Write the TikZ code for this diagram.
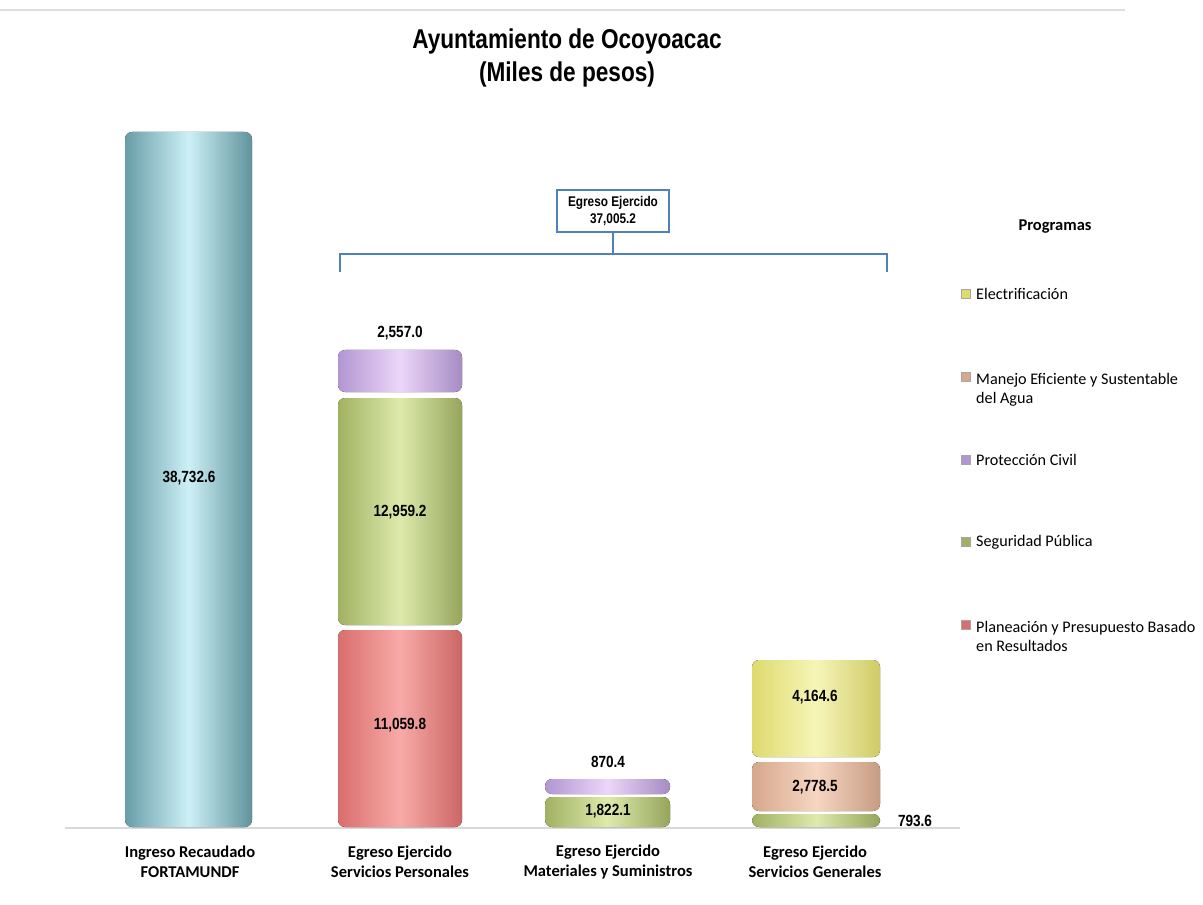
\documentclass[tikz,border=0pt]{standalone}
\usepackage{fontspec}
\setmainfont{Carlito}
\newfontfamily\arialfont[FakeStretch=0.83]{Liberation Sans}
\newfontfamily\valfont[FakeStretch=0.84]{Liberation Sans}
\usetikzlibrary{positioning}
\definecolor{CyanDark}{RGB}{104,158,168}
\definecolor{CyanLight}{RGB}{205,240,246}
\definecolor{LilaDark}{RGB}{178,150,210}
\definecolor{LilaLight}{RGB}{236,214,248}
\definecolor{GreenDark}{RGB}{160,178,98}
\definecolor{GreenLight}{RGB}{222,234,172}
\definecolor{RedDark}{RGB}{218,110,108}
\definecolor{RedLight}{RGB}{248,170,168}
\definecolor{YellowDark}{RGB}{222,218,110}
\definecolor{YellowLight}{RGB}{246,245,184}
\definecolor{PeachDark}{RGB}{214,168,140}
\definecolor{PeachLight}{RGB}{246,214,194}
\definecolor{BoxClr}{RGB}{79,129,189}

\tikzset{
  seg/.style 2 args={rounded corners=4pt,left color=#1,right color=#1!93!black,middle color=#2},
  val/.style={font=\valfont\bfseries\fontsize{9.2}{11}\selectfont},
  cat/.style={font=\bfseries\fontsize{9.4}{11.5}\selectfont,align=center},
  legtxt/.style={font=\fontsize{9.2}{11}\selectfont,align=left,anchor=west},
  legmark/.style={draw=gray!70,line width=0.3pt,minimum size=5pt,inner sep=0pt}
}

\begin{document}
\begin{tikzpicture}[x=0.02cm,y=-0.02cm]
\useasboundingbox (0,0) rectangle (1203,905);

% guide lines
\draw[gray!25,line width=1pt] (0,10) -- (1125,10);
\draw[gray!30,line width=1pt] (65,828) -- (960,828);

% title
\node[font=\arialfont\bfseries\fontsize{15.5}{18.5}\selectfont,align=center] (title) at (567,58)
  {Ayuntamiento de Ocoyoacac\\(Miles de pesos)};

% bar 1
\fill[seg={CyanDark}{CyanLight}] (125,132) rectangle (252,827);
\node[val] (v1) at (189,478) {38,732.6};

% bar 2
\fill[seg={RedDark}{RedLight}] (338,630) rectangle (462,827);
\fill[seg={GreenDark}{GreenLight}] (338,398) rectangle (462,625);
\fill[seg={LilaDark}{LilaLight}] (338,350) rectangle (462,392);
\node[val] (v2a) at (400,725) {11,059.8};
\node[val] (v2b) at (400,512) {12,959.2};
\node[val] (v2c) at (400,333) {2,557.0};

% bar 3
\fill[seg={GreenDark}{GreenLight}] (545,797) rectangle (670,827);
\fill[seg={LilaDark}{LilaLight}] (545,779) rectangle (670,794);
\node[val] (v3a) at (608,811) {1,822.1};
\node[val] (v3b) at (608,762) {870.4};

% bar 4
\fill[seg={GreenDark}{GreenLight}] (752,814) rectangle (880,827);
\fill[seg={PeachDark}{PeachLight}] (752,762) rectangle (880,811);
\fill[seg={YellowDark}{YellowLight}] (752,660) rectangle (880,757);
\node[val] (v4a) at (915,821) {793.6};
\node[val] (v4b) at (815,787) {2,778.5};
\node[val] (v4c) at (815,697) {4,164.6};

% bracket
\node[draw=BoxClr,line width=1pt,fill=white,minimum width=2.24cm,minimum height=0.84cm,
  align=center,font=\valfont\bfseries\fontsize{8}{9.8}\selectfont] (tot) at (613,211)
  {Egreso Ejercido\\37,005.2};
\coordinate (bl) at (340,272);
\coordinate (blt) at (340,254);
\coordinate (br) at (887,272);
\coordinate (brt) at (887,254);
\draw[BoxClr,line width=1pt] (bl) -- (blt) -- (brt) -- (br);
\draw[BoxClr,line width=0.8pt] (tot.south) -- (tot.south |- blt);

% categories
\node[cat] (c1) at (190,862) {Ingreso Recaudado\\FORTAMUNDF};
\node[cat] (c2) at (400,862) {Egreso Ejercido\\Servicios Personales};
\node[cat] (c3) at (608,862) {Egreso Ejercido\\Materiales y Suministros};
\node[cat] (c4) at (815,862) {Egreso Ejercido\\Servicios Generales};

% legend
\node[font=\bfseries\fontsize{9.4}{11}\selectfont] (prog) at (1055,227) {Programas};
\node[legmark,fill=YellowDark] (m1) at (966,294) {};
\node[legtxt] (l1) at (970,294) {Electrificación};
\node[legmark,fill=PeachDark] (m2) at (966,377) {};
\node[legtxt,anchor=north west] (l2) at (970,367) {Manejo Eficiente y Sustentable\\del Agua};
\node[legmark,fill=LilaDark] (m3) at (966,460) {};
\node[legtxt] (l3) at (970,460) {Protección Civil};
\node[legmark,fill=GreenDark] (m4) at (966,542) {};
\node[legtxt] (l4) at (970,542) {Seguridad Pública};
\node[legmark,fill=RedDark] (m5) at (966,625) {};
\node[legtxt,anchor=north west] (l5) at (970,615) {Planeación y Presupuesto Basado\\en Resultados};
\end{tikzpicture}
\end{document}
